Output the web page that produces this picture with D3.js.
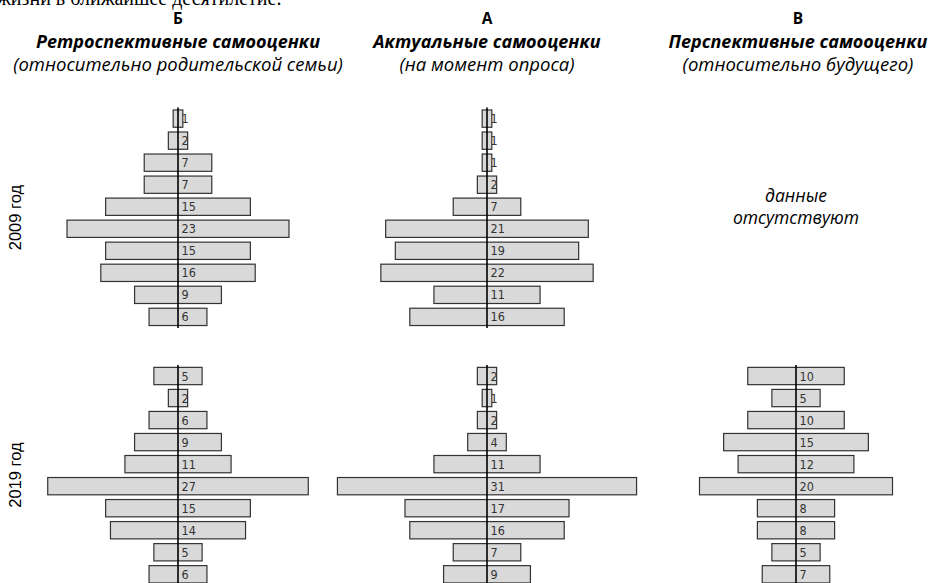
<!DOCTYPE html>
<html lang="ru">
<head>
    <meta charset="UTF-8">
    <title>Самооценки 2009 и 2019</title>
    <script src="https://d3js.org/d3.v7.min.js"></script>
    <style>
        html, body {
            margin: 0;
            padding: 0;
            background: #fff;
            overflow: hidden;
        }
        svg { display: block; }
        .head { font-family: "Open Sans", sans-serif; fill: #000; text-anchor: middle; }
        .bar { fill: #d9d9d9; stroke: #333; stroke-width: 1.2; }
        .axis-line { stroke: #000; stroke-width: 1.6; }
        .val { font-family: "DejaVu Sans Condensed", "DejaVu Sans", sans-serif; font-size: 12.5px; fill: #333; }
        .year { font-family: "Liberation Sans", Arial, sans-serif; font-size: 16.5px; fill: #000; }
    </style>
</head>
<body>
    <svg id="chart"></svg>

    <script>
        // rows from the top to the bottom of each pyramid
        var levels = ["10", "9", "8", "7", "6", "5", "4", "3", "2", "1"];

        var retro2009  = [1, 2, 7, 7, 15, 23, 15, 16, 9, 6];
        var actual2009 = [1, 1, 1, 2, 7, 21, 19, 22, 11, 16];
        var retro2019  = [5, 2, 6, 9, 11, 27, 15, 14, 5, 6];
        var actual2019 = [2, 1, 2, 4, 11, 31, 17, 16, 7, 9];
        var future2019 = [10, 5, 10, 15, 12, 20, 8, 8, 5, 7];

        var columnLetters = ["Б", "А", "В"];
        var columnTitles = ["Ретроспективные самооценки", "Актуальные самооценки", "Перспективные самооценки"];
        var columnNotes = ["(относительно родительской семьи)", "(на момент опроса)", "(относительно будущего)"];
        var yearLabels = ["2009 год", "2019 год"];

        var width = 932, height = 583;
        var centers = [178, 487, 798];
        var rowTops = [107.6, 365];
        var unit = 9.65; // px per percent

        var svg = d3.select("#chart")
            .attr("width", width)
            .attr("height", height);

        // cut-off line of the text above the figure
        svg.append("text")
            .attr("x", -3)
            .attr("y", 5)
            .style("font-family", "'Liberation Serif', serif")
            .style("font-size", "20px")
            .text("жизни в ближайшее десятилетие.");

        // column headers
        centers.forEach(function(cx, i) {
            svg.append("text").attr("class", "head")
                .attr("x", cx).attr("y", 24)
                .style("font-size", "15.5px").style("font-weight", "bold")
                .text(columnLetters[i]);
            svg.append("text").attr("class", "head")
                .attr("x", cx).attr("y", 48)
                .style("font-size", "18px").style("font-weight", "bold").style("font-style", "italic")
                .text(columnTitles[i]);
            svg.append("text").attr("class", "head")
                .attr("x", cx).attr("y", 71)
                .style("font-size", "18.5px").style("font-style", "italic")
                .text(columnNotes[i]);
        });

        // year labels on the left
        yearLabels.forEach(function(label, i) {
            svg.append("text").attr("class", "year")
                .attr("transform", "translate(21," + (rowTops[i] + 110) + ") rotate(-90)")
                .attr("text-anchor", "middle")
                .text(label);
        });

        function drawPyramid(values, cx, top) {
            var y = d3.scaleBand()
                .domain(levels)
                .range([top, top + 220.3])
                .paddingInner(0.215)
                .paddingOuter(0.1075);

            // symmetric scale: a bar of value v spans -v/2 .. v/2
            var x = d3.scaleLinear()
                .domain([-20, 20])
                .range([cx - 20 * unit, cx + 20 * unit]);

            var rows = levels.map(function(l, i) { return {level: l, value: values[i]}; });
            var g = svg.append("g");

            g.selectAll(".bar")
                .data(rows)
                .enter().append("rect")
                .attr("class", "bar")
                .attr("x", function(d) { return x(-d.value / 2); })
                .attr("y", function(d) { return y(d.level); })
                .attr("width", function(d) { return x(d.value / 2) - x(-d.value / 2); })
                .attr("height", y.bandwidth());

            g.append("line")
                .attr("class", "axis-line")
                .attr("x1", x(0)).attr("x2", x(0))
                .attr("y1", top).attr("y2", top + 220.3);

            g.selectAll(".val")
                .data(rows)
                .enter().append("text")
                .attr("class", "val")
                .attr("x", x(0) + 3.5)
                .attr("y", function(d) { return y(d.level) + y.bandwidth() / 2; })
                .attr("dy", "0.36em")
                .text(function(d) { return d.value; });
        }

        drawPyramid(retro2009, centers[0], rowTops[0]);
        drawPyramid(actual2009, centers[1], rowTops[0]);
        drawPyramid(retro2019, centers[0], rowTops[1]);
        drawPyramid(actual2019, centers[1], rowTops[1]);
        drawPyramid(future2019, centers[2] - 2, rowTops[1]);

        // missing data note
        svg.append("text").attr("class", "head")
            .attr("x", centers[2] - 2).attr("y", 202)
            .style("font-size", "17.5px").style("font-style", "italic")
            .text("данные");
        svg.append("text").attr("class", "head")
            .attr("x", centers[2] - 2).attr("y", 224)
            .style("font-size", "17.5px").style("font-style", "italic")
            .text("отсутствуют");
    </script>
</body>
</html>
